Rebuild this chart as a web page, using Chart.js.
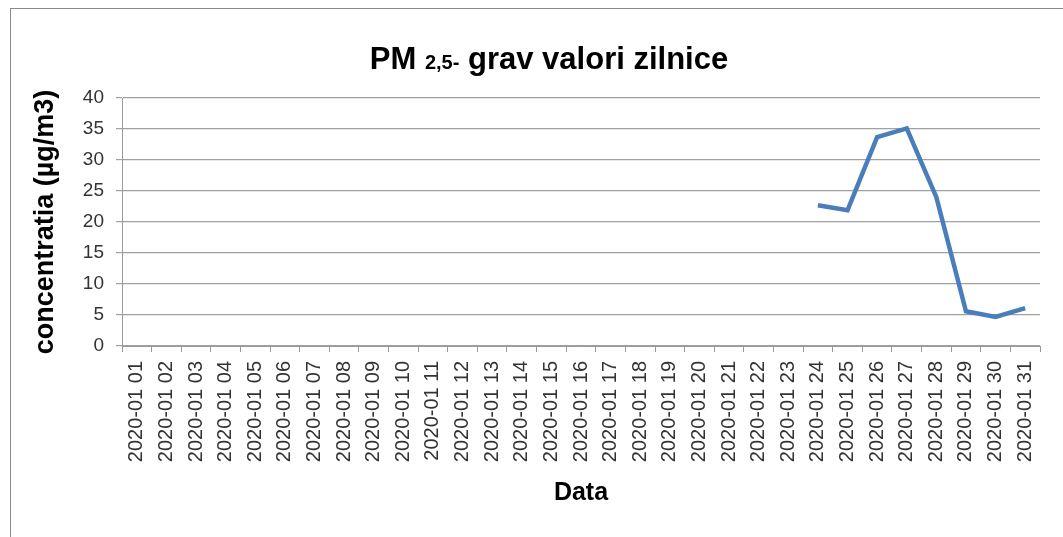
<!DOCTYPE html>
<html>
<head>
<meta charset="utf-8">
<script src="https://cdn.jsdelivr.net/npm/chart.js@4.4.1/dist/chart.umd.min.js"></script>
<style>
  body { margin: 0; background: #fff; }
  #frame { position: absolute; left: 10px; top: 8px; width: 1100px; height: 600px; border: 1px solid #8a8a8a; }
  #wrap { position: absolute; left: 0; top: 0; width: 1063px; height: 537px; }
</style>
</head>
<body>
<div id="frame"></div>
<div id="wrap"><canvas id="pmChart"></canvas></div>
<script>
// categories: January 2020 days
const days = ['01','02','03','04','05','06','07','08','09','10','11','12','13','14','15','16',
              '17','18','19','20','21','22','23','24','25','26','27','28','29','30','31'];
const dateLabels = days.map(d => '2020-01 ' + d);

// PM 2,5 daily values, only measured from the 24th
const pmValues = [null, null, null, null, null, null, null, null, null, null, null, null,
                  null, null, null, null, null, null, null, null, null, null, null,
                  22.7, 21.9, 33.7, 35.1, 24.0, 5.6, 4.7, 6.1];

const yTicks = [0, 5, 10, 15, 20, 25, 30, 35, 40];

const FONT = "'Liberation Sans', Arial, sans-serif";

// title with a smaller "2,5-" part
const titlePlugin = {
    id: 'mixedTitle',
    afterDraw(chart) {
        const ctx = chart.ctx;
        const parts = [
            { text: 'PM ', size: 31 },
            { text: '2,5-', size: 20 },
            { text: ' grav valori zilnice', size: 31 }
        ];
        ctx.save();
        ctx.fillStyle = '#000';
        ctx.textBaseline = 'alphabetic';
        let total = 0;
        parts.forEach(p => {
            ctx.font = 'bold ' + p.size + 'px ' + FONT;
            p.w = ctx.measureText(p.text).width;
            total += p.w;
        });
        let x = 549 - total / 2;
        parts.forEach(p => {
            ctx.font = 'bold ' + p.size + 'px ' + FONT;
            ctx.fillText(p.text, x, 69);
            x += p.w;
        });
        ctx.restore();
    }
};

const ctx = document.getElementById('pmChart').getContext('2d');
new Chart(ctx, {
    type: 'line',
    data: {
        labels: dateLabels,
        datasets: [{
            label: 'PM 2,5',
            data: pmValues,
            borderColor: '#4a7ebb',
            borderWidth: 4.5,
            pointRadius: 0,
            tension: 0,
            spanGaps: false
        }]
    },
    plugins: [titlePlugin],
    options: {
        responsive: true,
        maintainAspectRatio: false,
        animation: false,
        layout: { padding: { top: 98, right: 23, left: 0, bottom: 0 } },
        plugins: {
            legend: { display: false },
            tooltip: { enabled: false }
        },
        scales: {
            x: {
                offset: true,
                afterFit(scale) { scale.height = 191; },
                grid: {
                    offset: true,
                    drawOnChartArea: false,
                    drawTicks: true,
                    tickLength: 6,
                    color: '#999'
                },
                border: { color: '#999' },
                ticks: {
                    autoSkip: false,
                    minRotation: 90,
                    maxRotation: 90,
                    padding: 9,
                    color: '#333',
                    font: { family: FONT, size: 20 }
                },
                title: {
                    display: true,
                    text: 'Data',
                    color: '#000',
                    font: { family: FONT, size: 25, weight: 'bold' },
                    padding: { top: 0, bottom: 29 }
                }
            },
            y: {
                min: 0,
                max: 40,
                afterFit(scale) { scale.width = 122; },
                afterBuildTicks(scale) { scale.ticks = yTicks.map(v => ({ value: v })); },
                grid: { color: '#a0a0a0', tickLength: 6, lineWidth: 1.2 },
                border: { color: '#999' },
                ticks: {
                    padding: 12,
                    color: '#333',
                    font: { family: FONT, size: 19 }
                },
                title: {
                    display: true,
                    text: 'concentratia (µg/m3)',
                    color: '#000',
                    font: { family: FONT, size: 27, weight: 'bold' },
                    padding: { top: 29, bottom: 0 }
                }
            }
        }
    }
});
</script>
</body>
</html>
